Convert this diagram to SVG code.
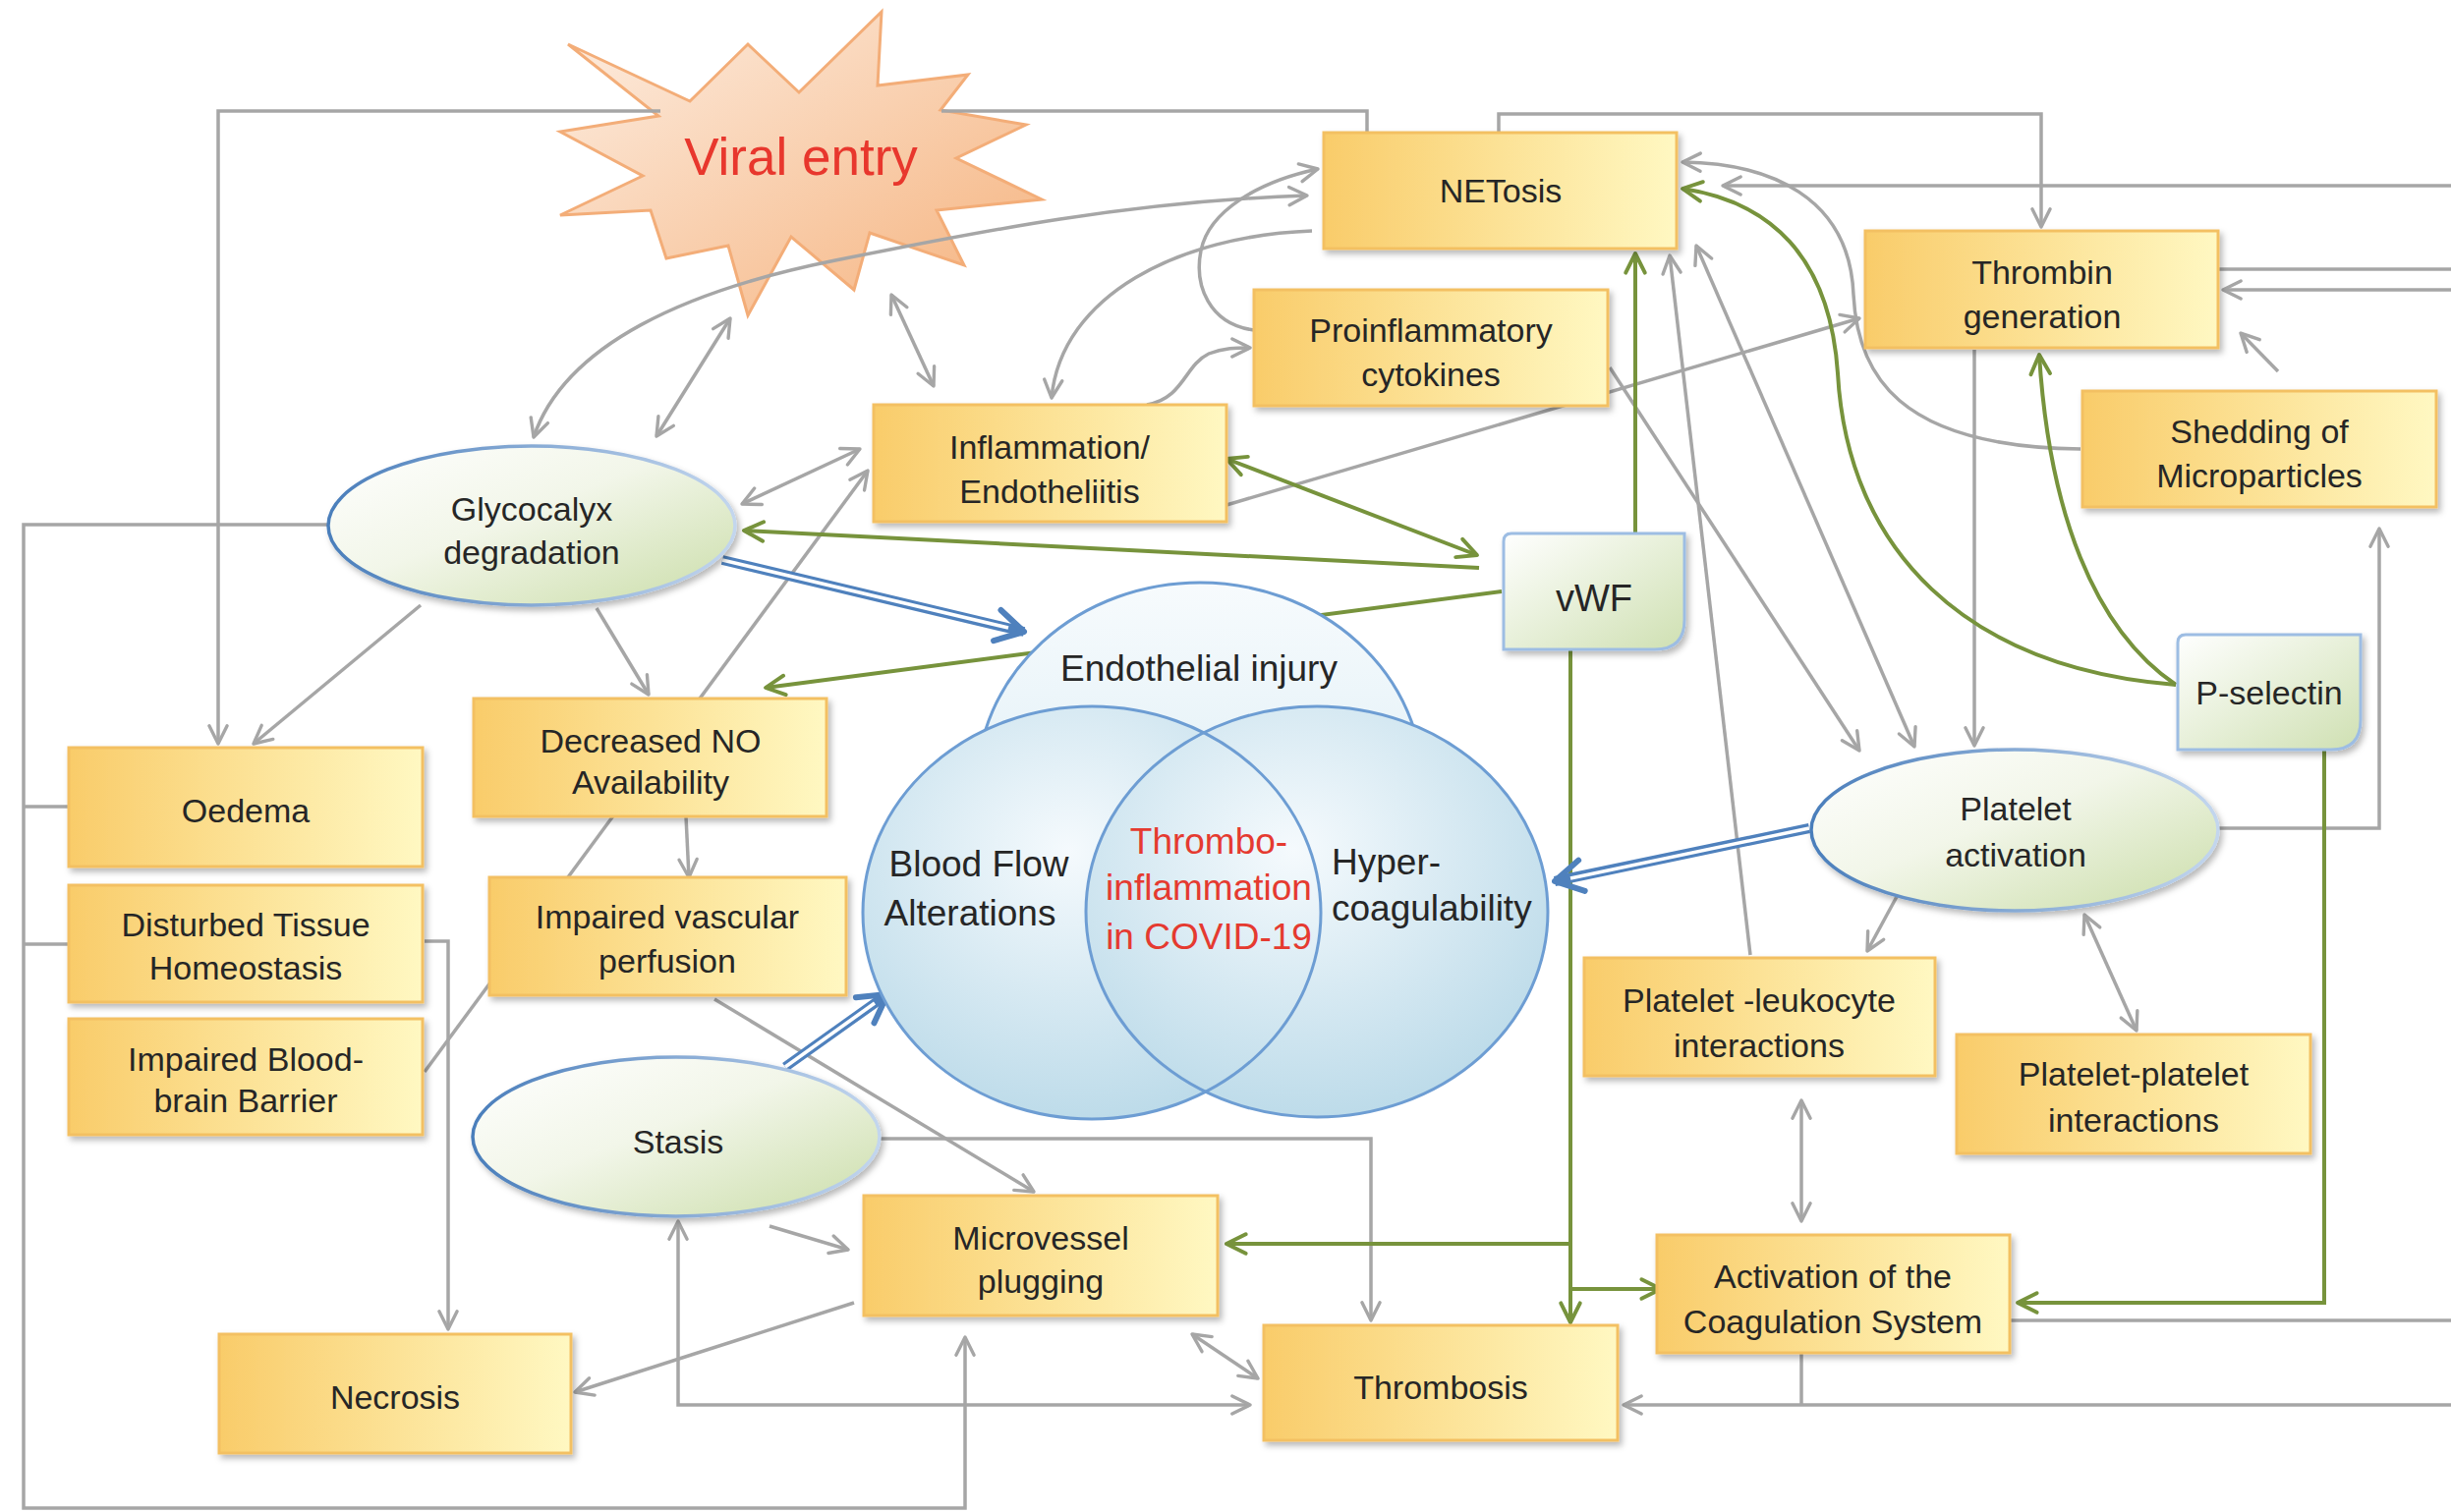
<svg xmlns="http://www.w3.org/2000/svg" width="2494" height="1539" viewBox="0 0 2494 1539">
<defs>
<style>
.box{fill:url(#gBox);stroke:#f3c062;stroke-width:3;filter:url(#sh)}
.ell{fill:url(#gEll);stroke:url(#gEllS);stroke-width:3.5;filter:url(#sh)}
.tag{fill:url(#gTag);stroke:#9dbde3;stroke-width:3;filter:url(#sh)}
.lbl{font-family:'Liberation Sans',Arial,sans-serif;font-size:34px;fill:#262626;text-anchor:middle}
.vt{font-family:'Liberation Sans',Arial,sans-serif;font-size:37px;fill:#262626}
.red{fill:#e53a30}
.c{fill:none;stroke:#a6a6a6;stroke-width:3.5}
.g{fill:none;stroke:#77933c;stroke-width:4}
.bw{fill:none;stroke:#4f81bd;stroke-width:10}
.bi{fill:none;stroke:#ffffff;stroke-width:3.5}
.venn{stroke:#6d9dd3;stroke-width:3}
</style>
<linearGradient id="gBox" x1="0" y1="0" x2="1" y2="0">
<stop offset="0" stop-color="#f9cc6a"/><stop offset="1" stop-color="#fff8c2"/>
</linearGradient>
<linearGradient id="gEll" x1="0" y1="0" x2="1" y2="1">
<stop offset="0" stop-color="#ffffff"/><stop offset="0.45" stop-color="#f2f6e9"/><stop offset="1" stop-color="#cadda8"/>
</linearGradient>
<linearGradient id="gEllS" x1="0" y1="0" x2="1" y2="0">
<stop offset="0" stop-color="#4a7ebb"/><stop offset="1" stop-color="#c3d6ee"/>
</linearGradient>
<linearGradient id="gTag" x1="0" y1="0" x2="1" y2="1">
<stop offset="0" stop-color="#ffffff"/><stop offset="1" stop-color="#cfe0b2"/>
</linearGradient>
<linearGradient id="gStar" x1="0" y1="0" x2="1" y2="1">
<stop offset="0" stop-color="#fdeee2"/><stop offset="1" stop-color="#f5b27d"/>
</linearGradient>
<radialGradient id="gVenn" cx="0.45" cy="0.35" r="0.7">
<stop offset="0" stop-color="#f5fafd"/><stop offset="1" stop-color="#b9d9e8"/>
</radialGradient>
<linearGradient id="gVennTop" x1="0" y1="0" x2="0" y2="1">
<stop offset="0" stop-color="#f7fbfd"/><stop offset="1" stop-color="#d2e8f2"/>
</linearGradient>
<filter id="sh" x="-10%" y="-10%" width="130%" height="140%">
<feDropShadow dx="3" dy="4" stdDeviation="3" flood-color="#000" flood-opacity="0.28"/>
</filter>
<marker id="ag" viewBox="0 0 20 20" refX="17" refY="10" markerWidth="26" markerHeight="26" markerUnits="userSpaceOnUse" orient="auto-start-reverse">
<path d="M3,3 L17,10 L3,17" fill="none" stroke="#a6a6a6" stroke-width="2.6" stroke-linecap="round" stroke-linejoin="round"/>
</marker>
<marker id="agr" viewBox="0 0 20 20" refX="17" refY="10" markerWidth="28" markerHeight="28" markerUnits="userSpaceOnUse" orient="auto-start-reverse">
<path d="M3,3 L17,10 L3,17" fill="none" stroke="#77933c" stroke-width="2.8" stroke-linecap="round" stroke-linejoin="round"/>
</marker>
<marker id="ab" viewBox="0 0 20 20" refX="17" refY="10" markerWidth="40" markerHeight="40" markerUnits="userSpaceOnUse" orient="auto">
<path d="M3,2 L17,10 L3,18" fill="none" stroke="#4f81bd" stroke-width="3" stroke-linecap="round" stroke-linejoin="round"/>
</marker>
</defs>

<rect width="2494" height="1539" fill="#ffffff"/>

<g id="viral-entry">
<polygon points="578,45 702,103 761,45 813,94 897,12 893,87 985,76 957,112 1044,127 973,161 1060,203 953,214 981,270 885,237 869,295 805,241 761,321 741,250 678,263 662,214 570,219 654,179 570,134 670,118" fill="url(#gStar)" stroke="#f3ad78" stroke-width="3" stroke-linejoin="miter"/>
<text x="815" y="178" font-family="'Liberation Sans',Arial,sans-serif" font-size="53" fill="#e8372d" text-anchor="middle">Viral entry</text>
</g>

<g id="connectors">
<path class="c" d="M1391,135 V113 H958"/>
<path class="c" d="M672,113 H222 V757" marker-end="url(#ag)"/>
<path class="c" d="M1525,135 V116 H2077 V231" marker-end="url(#ag)"/>
<path class="c" d="M543,445 C575,350 700,295 850,265 C1000,235 1150,205 1330,199" marker-start="url(#ag)" marker-end="url(#ag)"/>
<path class="c" d="M1335,235 C1200,240 1080,300 1070,405" marker-end="url(#ag)"/>
<path class="c" d="M1276,336 C1230,330 1215,290 1222,255 C1230,215 1280,185 1341,172" marker-end="url(#ag)"/>
<path class="c" d="M1167,412 C1205,405 1205,372 1230,360 C1245,354 1258,354 1272,354" marker-end="url(#ag)"/>
<path class="c" d="M1248,514 L1892,324" marker-end="url(#ag)"/>
<path class="c" d="M743,324 L668,444" marker-start="url(#ag)" marker-end="url(#ag)"/>
<path class="c" d="M907,300 L950,393" marker-start="url(#ag)" marker-end="url(#ag)"/>
<path class="c" d="M755,513 L875,457" marker-start="url(#ag)" marker-end="url(#ag)"/>
<path class="c" d="M607,619 L660,707" marker-end="url(#ag)"/>
<path class="c" d="M428,616 L258,757" marker-end="url(#ag)"/>
<path class="c" d="M698,831 L701,893" marker-end="url(#ag)"/>
<path class="c" d="M432,1091 L883,479" marker-end="url(#ag)"/>
<path class="c" d="M432,958 H456 V1353" marker-end="url(#ag)"/>
<path class="c" d="M336,534 H24 V1535 H982 V1361" marker-end="url(#ag)"/>
<path class="c" d="M70,821 H24 M70,961 H24"/>
<path class="c" d="M727,1017 L1052,1213" marker-end="url(#ag)"/>
<path class="c" d="M783,1248 L863,1272" marker-end="url(#ag)"/>
<path class="c" d="M869,1326 L585,1417" marker-end="url(#ag)"/>
<path class="c" d="M895,1159 H1395 V1344" marker-end="url(#ag)"/>
<path class="c" d="M1213,1358 L1280,1403" marker-start="url(#ag)" marker-end="url(#ag)"/>
<path class="c" d="M1272,1430 H690 V1243" marker-start="url(#ag)" marker-end="url(#ag)"/>
<path class="c" d="M2494,1430 H1652" marker-end="url(#ag)"/>
<path class="c" d="M1833,1378 V1430"/>
<path class="c" d="M2045,1344 H2494"/>
<path class="c" d="M1833,1120 V1243" marker-start="url(#ag)" marker-end="url(#ag)"/>
<path class="c" d="M1932,909 L1900,968" marker-end="url(#ag)"/>
<path class="c" d="M2121,931 L2174,1049" marker-start="url(#ag)" marker-end="url(#ag)"/>
<path class="c" d="M2256,843 H2421 V538" marker-end="url(#ag)"/>
<path class="c" d="M2009,356 V759" marker-end="url(#ag)"/>
<path class="c" d="M1638,374 L1892,764" marker-end="url(#ag)"/>
<path class="c" d="M1726,250 L1948,760" marker-start="url(#ag)" marker-end="url(#ag)"/>
<path class="c" d="M1781,972 L1699,260" marker-end="url(#ag)"/>
<path class="c" d="M2117,457 C1930,455 1890,380 1886,300 C1882,200 1800,166 1712,165" marker-end="url(#ag)"/>
<path class="c" d="M2318,378 L2280,339" marker-end="url(#ag)"/>
<path class="c" d="M2494,189 H1753" marker-end="url(#ag)"/>
<path class="c" d="M2257,274 H2494"/>
<path class="c" d="M2494,295 H2262" marker-end="url(#ag)"/>
<path class="g" d="M1664,543 V258" marker-end="url(#agr)"/>
<path class="g" d="M1505,578 L757,540" marker-end="url(#agr)"/>
<path class="g" d="M1248,467 L1503,565" marker-start="url(#agr)" marker-end="url(#agr)"/>
<path class="g" d="M1528,602 L779,700" marker-end="url(#agr)"/>
<path class="g" d="M1598,661 V1346" marker-end="url(#agr)"/>
<path class="g" d="M1598,1266 H1248" marker-end="url(#agr)"/>
<path class="g" d="M1598,1312 H1690" marker-end="url(#agr)"/>
<path class="g" d="M2214,697 C2000,680 1880,560 1870,380 C1862,260 1800,205 1712,192" marker-end="url(#agr)"/>
<path class="g" d="M2214,697 C2130,640 2085,520 2075,361" marker-end="url(#agr)"/>
<path class="g" d="M2365,763 V1326 H2053" marker-end="url(#agr)"/>
<path class="bw" d="M735,570 L1042,643" marker-end="url(#ab)"/>
<path class="bi" d="M735,570 L1026,639"/>
<path class="bw" d="M799,1086 L903,1012" marker-end="url(#ab)"/>
<path class="bi" d="M799,1086 L890,1021"/>
<path class="bw" d="M1841,843 L1582,897" marker-end="url(#ab)"/>
<path class="bi" d="M1841,843 L1598,894"/>
</g>

<g id="endothelial-injury">
<ellipse cx="1221" cy="800" rx="227" ry="207" fill="url(#gVennTop)" class="venn"/>
</g>
<g id="blood-flow-alterations">
<ellipse cx="1111" cy="929" rx="233" ry="210" fill="url(#gVenn)" stroke="none"/>
</g>
<g id="hypercoagulability">
<ellipse cx="1340" cy="928" rx="235" ry="209" fill="url(#gVenn)" stroke="none"/>
<ellipse cx="1111" cy="929" rx="233" ry="210" fill="none" class="venn"/>
<ellipse cx="1340" cy="928" rx="235" ry="209" fill="none" class="venn"/>
</g>
<g id="venn-labels">
<text class="vt" x="1220" y="693" text-anchor="middle">Endothelial injury</text>
<text class="vt" x="996" y="892" text-anchor="middle">Blood Flow</text>
<text class="vt" x="987" y="942" text-anchor="middle">Alterations</text>
<text class="vt" x="1355" y="890">Hyper-</text>
<text class="vt" x="1355" y="937">coagulability</text>
</g>
<g id="thromboinflammation">
<text class="vt red" x="1230" y="869" text-anchor="middle">Thrombo-</text>
<text class="vt red" x="1230" y="916" text-anchor="middle">inflammation</text>
<text class="vt red" x="1230" y="966" text-anchor="middle">in COVID-19</text>
</g>

<g id="netosis"><rect class="box" x="1347" y="135" width="359" height="118"/><text class="lbl" x="1527" y="206">NETosis</text></g>
<g id="proinflammatory-cytokines"><rect class="box" x="1276" y="295" width="360" height="118"/><text class="lbl" x="1456" y="348">Proinflammatory</text><text class="lbl" x="1456" y="393">cytokines</text></g>
<g id="thrombin-generation"><rect class="box" x="1898" y="235" width="359" height="119"/><text class="lbl" x="2078" y="289">Thrombin</text><text class="lbl" x="2078" y="334">generation</text></g>
<g id="shedding-microparticles"><rect class="box" x="2119" y="398" width="360" height="118"/><text class="lbl" x="2299" y="451">Shedding of</text><text class="lbl" x="2299" y="496">Microparticles</text></g>
<g id="inflammation"><rect class="box" x="889" y="412" width="359" height="119"/><text class="lbl" x="1068" y="467">Inflammation/</text><text class="lbl" x="1068" y="512">Endotheliitis</text></g>
<g id="decreased-no"><rect class="box" x="482" y="711" width="359" height="120"/><text class="lbl" x="662" y="766">Decreased NO</text><text class="lbl" x="662" y="808">Availability</text></g>
<g id="impaired-vascular-perfusion"><rect class="box" x="498" y="893" width="363" height="120"/><text class="lbl" x="679" y="945">Impaired vascular</text><text class="lbl" x="679" y="990">perfusion</text></g>
<g id="oedema"><rect class="box" x="70" y="761" width="360" height="121"/><text class="lbl" x="250" y="837">Oedema</text></g>
<g id="disturbed-tissue"><rect class="box" x="70" y="901" width="360" height="119"/><text class="lbl" x="250" y="953">Disturbed Tissue</text><text class="lbl" x="250" y="997">Homeostasis</text></g>
<g id="impaired-bbb"><rect class="box" x="70" y="1037" width="360" height="118"/><text class="lbl" x="250" y="1090">Impaired Blood-</text><text class="lbl" x="250" y="1132">brain Barrier</text></g>
<g id="necrosis"><rect class="box" x="223" y="1358" width="358" height="121"/><text class="lbl" x="402" y="1434">Necrosis</text></g>
<g id="microvessel-plugging"><rect class="box" x="879" y="1217" width="360" height="122"/><text class="lbl" x="1059" y="1272">Microvessel</text><text class="lbl" x="1059" y="1316">plugging</text></g>
<g id="thrombosis"><rect class="box" x="1286" y="1349" width="360" height="117"/><text class="lbl" x="1466" y="1424">Thrombosis</text></g>
<g id="activation-coagulation"><rect class="box" x="1686" y="1257" width="359" height="120"/><text class="lbl" x="1865" y="1311">Activation of the</text><text class="lbl" x="1865" y="1357">Coagulation System</text></g>
<g id="platelet-leukocyte"><rect class="box" x="1612" y="975" width="357" height="120"/><text class="lbl" x="1790" y="1030">Platelet -leukocyte</text><text class="lbl" x="1790" y="1076">interactions</text></g>
<g id="platelet-platelet"><rect class="box" x="1991" y="1053" width="360" height="121"/><text class="lbl" x="2171" y="1105">Platelet-platelet</text><text class="lbl" x="2171" y="1152">interactions</text></g>

<g id="vwf"><path class="tag" d="M1538,543 H1714 V631 Q1714,661 1684,661 H1530 V551 Q1530,543 1538,543 Z"/><text class="lbl" x="1622" y="622" style="font-size:38px">vWF</text></g>
<g id="p-selectin"><path class="tag" d="M2224,646 H2402 V733 Q2402,763 2372,763 H2216 V654 Q2216,646 2224,646 Z"/><text class="lbl" x="2309" y="717">P-selectin</text></g>

<g id="glycocalyx-degradation"><ellipse class="ell" cx="541" cy="535" rx="207" ry="81"/><text class="lbl" x="541" y="530">Glycocalyx</text><text class="lbl" x="541" y="574">degradation</text></g>
<g id="stasis"><ellipse class="ell" cx="688" cy="1157" rx="207" ry="81"/><text class="lbl" x="690" y="1174">Stasis</text></g>
<g id="platelet-activation"><ellipse class="ell" cx="2050" cy="845" rx="207" ry="82"/><text class="lbl" x="2051" y="835">Platelet</text><text class="lbl" x="2051" y="882">activation</text></g>
</svg>
